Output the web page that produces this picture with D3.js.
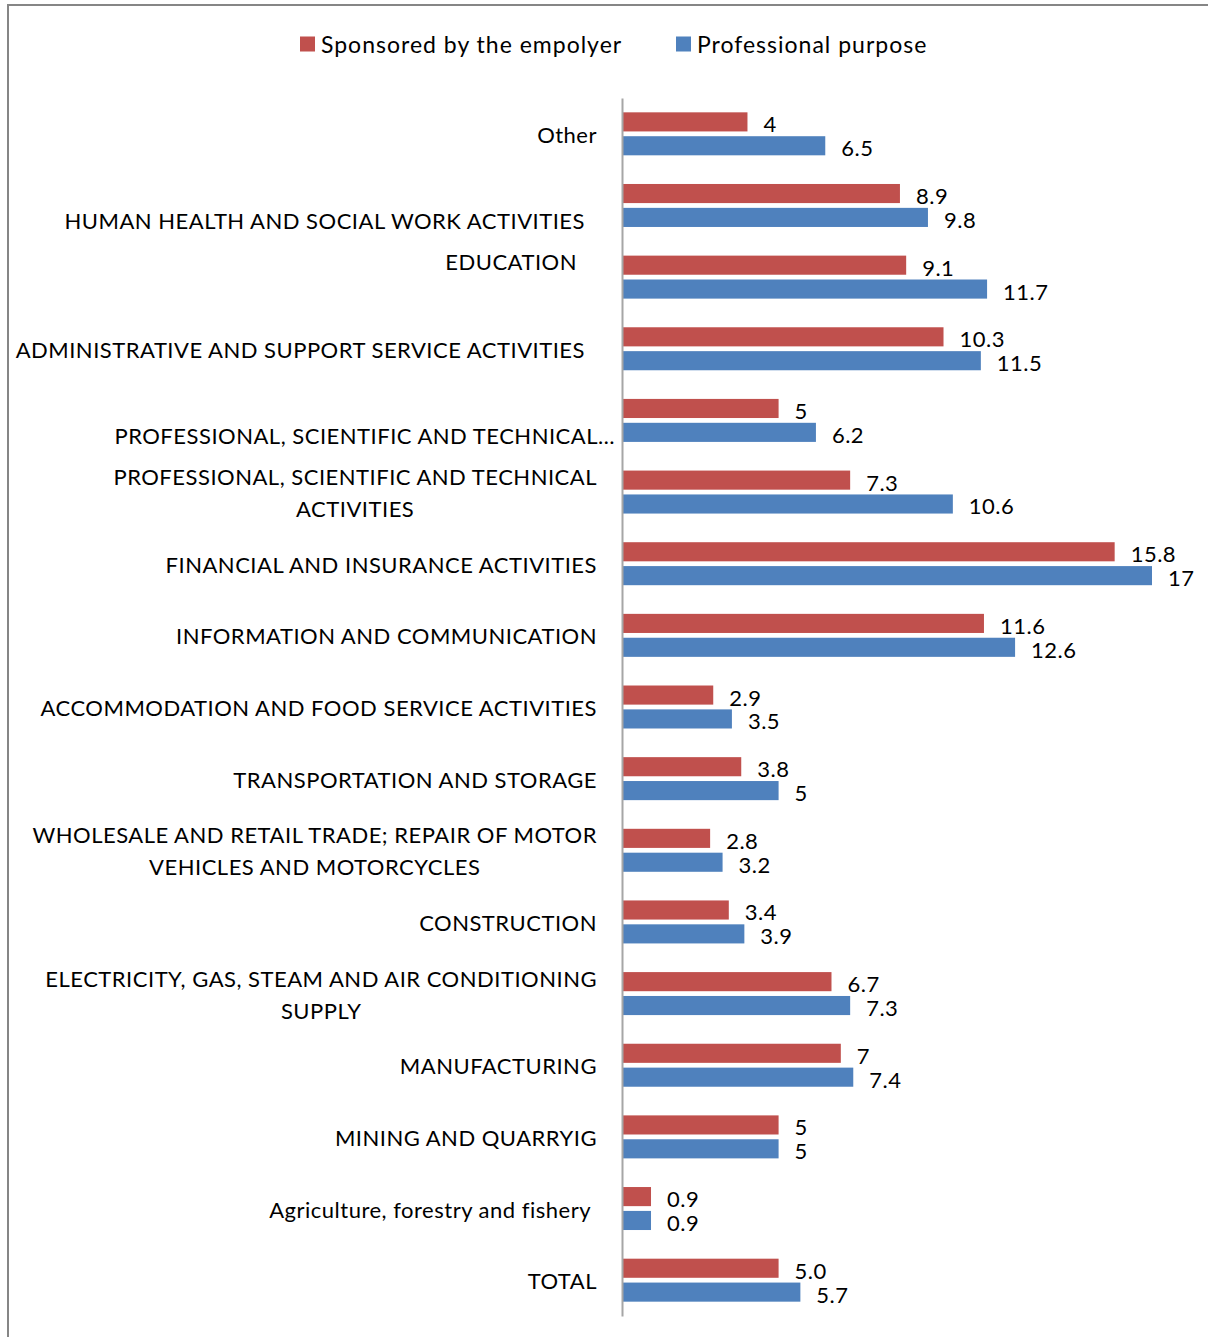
<!DOCTYPE html>
<html>
<head>
<meta charset="utf-8">
<script src="https://cdn.jsdelivr.net/npm/d3@7"></script>
<style>
  body { margin: 0; background: #fff; }
  svg text { font-family: Lato, "Open Sans", sans-serif; fill: #000; letter-spacing: 0.5px; }
</style>
</head>
<body>
<div id="chart"></div>
<script>
// categories, top to bottom ('\n' marks a wrapped label)
const categories = [
  'Other',
  'HUMAN HEALTH AND SOCIAL WORK ACTIVITIES',
  'EDUCATION',
  'ADMINISTRATIVE AND SUPPORT SERVICE ACTIVITIES',
  'PROFESSIONAL, SCIENTIFIC AND TECHNICAL…',
  'PROFESSIONAL, SCIENTIFIC AND TECHNICAL\nACTIVITIES',
  'FINANCIAL AND INSURANCE ACTIVITIES',
  'INFORMATION AND COMMUNICATION',
  'ACCOMMODATION AND FOOD SERVICE ACTIVITIES',
  'TRANSPORTATION AND STORAGE',
  'WHOLESALE AND RETAIL TRADE; REPAIR OF MOTOR\nVEHICLES AND MOTORCYCLES',
  'CONSTRUCTION',
  'ELECTRICITY, GAS, STEAM AND AIR CONDITIONING\nSUPPLY',
  'MANUFACTURING',
  'MINING AND QUARRYIG',
  'Agriculture, forestry and fishery',
  'TOTAL'
];

const sponsored = [4, 8.9, 9.1, 10.3, 5, 7.3, 15.8, 11.6, 2.9, 3.8, 2.8, 3.4, 6.7, 7, 5, 0.9, 5.0];
const professional = [6.5, 9.8, 11.7, 11.5, 6.2, 10.6, 17, 12.6, 3.5, 5, 3.2, 3.9, 7.3, 7.4, 5, 0.9, 5.7];
// value labels as printed
const sponsoredLabels = ['4', '8.9', '9.1', '10.3', '5', '7.3', '15.8', '11.6', '2.9', '3.8', '2.8', '3.4', '6.7', '7', '5', '0.9', '5.0'];
const professionalLabels = ['6.5', '9.8', '11.7', '11.5', '6.2', '10.6', '17', '12.6', '3.5', '5', '3.2', '3.9', '7.3', '7.4', '5', '0.9', '5.7'];

const seriesNames = ['Sponsored by the empolyer', 'Professional purpose'];
const seriesColors = ['#C0504D', '#4F81BD'];

// small label offsets copied from the original layout [dx, dy]
const labelShift = { 1: [-12, 15], 2: [-20, -16], 3: [-12, 0], 4: [18, 15], 15: [-6, 0] };

const width = 1208, height = 1337;
const margin = { top: 98, left: 623, right: 56, bottom: 21 };
const fontSize = 22;

const svg = d3.select('#chart').append('svg')
  .attr('width', width)
  .attr('height', height);

// chart frame
svg.append('rect')
  .attr('x', 8).attr('y', 5)
  .attr('width', width + 20).attr('height', height + 20)
  .attr('fill', 'none')
  .attr('stroke', '#868686')
  .attr('stroke-width', 2);

const x = d3.scaleLinear()
  .domain([0, 17])
  .range([margin.left, width - margin.right]);

const y = d3.scaleBand()
  .domain(d3.range(categories.length))
  .range([margin.top, height - margin.bottom]);

const yInner = d3.scaleBand()
  .domain([0, 1])
  .range([0, y.bandwidth()])
  .paddingInner(0.2)
  .paddingOuter(0.6);

const rows = categories.map((c, i) => ({
  i,
  values: [sponsored[i], professional[i]],
  labels: [sponsoredLabels[i], professionalLabels[i]]
}));

// bars
const groups = svg.selectAll('.row')
  .data(rows)
  .enter()
  .append('g')
  .attr('class', 'row')
  .attr('transform', d => `translate(0,${y(d.i)})`);

groups.selectAll('rect')
  .data(d => d.values.map((v, s) => ({ v, s, label: d.labels[s] })))
  .enter()
  .append('rect')
  .attr('x', x(0))
  .attr('y', d => yInner(d.s))
  .attr('width', d => x(d.v) - x(0))
  .attr('height', yInner.bandwidth())
  .attr('fill', d => seriesColors[d.s]);

groups.selectAll('.val')
  .data(d => d.values.map((v, s) => ({ v, s, label: d.labels[s] })))
  .enter()
  .append('text')
  .attr('class', 'val')
  .attr('x', d => x(d.v) + 16)
  .attr('y', d => yInner(d.s) + yInner.bandwidth() / 2 + 2)
  .attr('dominant-baseline', 'central')
  .style('font-size', fontSize + 'px')
  .text(d => d.label);

// vertical axis line
svg.append('g')
  .attr('transform', `translate(${x(0) - 1},0)`)
  .call(d3.axisLeft(y).tickSize(0).tickFormat(''))
  .call(g => g.select('.domain').attr('stroke', '#a6a6a6').attr('stroke-width', 2));

// category labels
const labelRight = 597;
const lineH = 32;
rows.forEach(d => {
  const lines = categories[d.i].split('\n');
  const shift = labelShift[d.i] || [0, 0];
  const cy = y(d.i) + y.bandwidth() / 2 + shift[1];
  const t = svg.append('text')
    .style('font-size', fontSize + 'px')
    .attr('dominant-baseline', 'central');
  lines.forEach((ln, k) => {
    t.append('tspan')
      .attr('y', cy + (k - (lines.length - 1) / 2) * lineH)
      .text(ln);
  });
  if (lines.length === 1) {
    t.attr('text-anchor', 'end');
    t.selectAll('tspan').attr('x', labelRight + shift[0]);
  } else {
    let maxW = 0;
    t.selectAll('tspan').each(function () {
      maxW = Math.max(maxW, this.getComputedTextLength());
    });
    t.attr('text-anchor', 'middle');
    t.selectAll('tspan').attr('x', labelRight + shift[0] - maxW / 2);
  }
});

// legend
const legendX = [300, 676];
const legend = svg.selectAll('.legend')
  .data(seriesNames)
  .enter()
  .append('g')
  .attr('class', 'legend')
  .attr('transform', (d, i) => `translate(${legendX[i]},44)`);

legend.append('rect')
  .attr('x', 0).attr('y', -7.5)
  .attr('width', 15).attr('height', 15)
  .attr('fill', (d, i) => seriesColors[i]);

legend.append('text')
  .attr('x', 21)
  .attr('dominant-baseline', 'central')
  .style('font-size', '23px')
  .style('letter-spacing', '1px')
  .text(d => d);
</script>
</body>
</html>
